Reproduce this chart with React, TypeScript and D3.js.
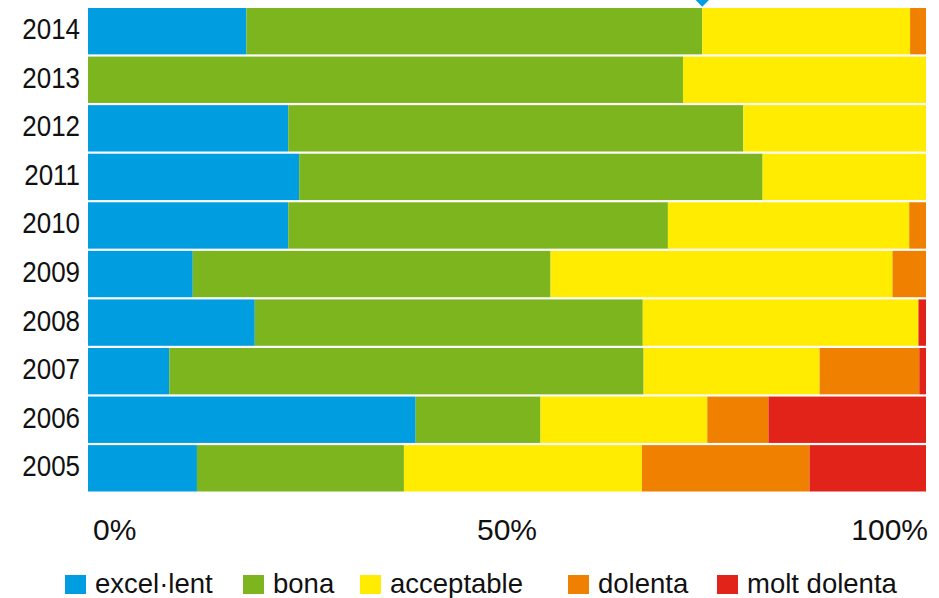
import React from "react";
import * as d3 from "d3";

const years = ["2014", "2013", "2012", "2011", "2010", "2009", "2008", "2007", "2006", "2005"];
const seriesNames = ["excel·lent", "bona", "acceptable", "dolenta", "molt dolenta"];
const seriesColors = ["#009EE0", "#7DB51F", "#FFEC00", "#F08000", "#E2231A"];
const excellent = [18.9, 0, 23.9, 25.2, 23.9, 12.5, 19.9, 9.7, 39.1, 13.0];
const bona = [54.4, 71.0, 54.3, 55.3, 45.3, 42.7, 46.3, 56.6, 14.9, 24.7];
const acceptable = [24.8, 29.0, 21.8, 19.5, 28.8, 40.8, 32.9, 21.0, 19.9, 28.4];
const dolenta = [1.9, 0, 0, 0, 2.0, 4.0, 0, 11.9, 7.3, 20.0];
const moltDolenta = [0, 0, 0, 0, 0, 0, 0.9, 0.8, 18.8, 13.9];
const tickValues = [0, 50, 100];
const tickLabels = ["0%", "50%", "100%"];
const markerValue = 73.3; // diamond marker above 2014 bar

const W = 939;
const H = 598;
const FONT = "'Liberation Sans', 'DejaVu Sans', sans-serif";

export default function App() {
  const x = d3.scaleLinear().domain([0, 100]).range([88, 926]);
  const y = d3.scaleBand().domain(years).range([8, 491.5]).paddingInner(0.045).paddingOuter(0);

  const table = years.map((yr, i) => ({
    year: yr,
    "excel·lent": excellent[i],
    bona: bona[i],
    acceptable: acceptable[i],
    dolenta: dolenta[i],
    "molt dolenta": moltDolenta[i],
  }));
  const stack = d3.stack<any>().keys(seriesNames);
  const layers = stack(table);

  const legendX = [65, 243, 360, 568, 717];

  return (
    <svg width={W} height={H} style={{ position: "absolute", left: 0, top: 0, background: "#fff" }}>
      {layers.map((layer, li) =>
        layer.map((d, i) => {
          const x0 = x(d[0]);
          const x1 = x(d[1]);
          if (x1 - x0 <= 0) return null;
          return (
            <rect
              key={`${li}-${i}`}
              x={x0}
              y={y(years[i])!}
              width={x1 - x0}
              height={y.bandwidth()}
              fill={seriesColors[li]}
            />
          );
        })
      )}
      <path
        d={d3.symbol().type(d3.symbolSquare).size(392)()!}
        transform={`translate(${x(markerValue)},-7.3) rotate(45)`}
        fill="#009EE0"
      />
      {years.map((yr) => (
        <text
          key={yr}
          transform={`translate(80,${y(yr)! + y.bandwidth() / 2 + 8}) scale(0.88,1)`}
          textAnchor="end"
          fontFamily={FONT}
          fontSize={29.5}
          fill="#111"
        >
          {yr}
        </text>
      ))}
      {tickValues.map((t, i) => (
        <text
          key={t}
          x={i === 0 ? x(t) + 5 : i === tickValues.length - 1 ? x(t) + 2 : x(t)}
          y={539.5}
          textAnchor={i === 0 ? "start" : i === tickValues.length - 1 ? "end" : "middle"}
          fontFamily={FONT}
          fontSize={30}
          fill="#111"
        >
          {tickLabels[i]}
        </text>
      ))}
      {seriesNames.map((s, i) => (
        <g key={s} transform={`translate(${legendX[i]},0)`}>
          <rect x={0} y={575} width={21} height={19} fill={seriesColors[i]} />
          <text x={30} y={593} fontFamily={FONT} fontSize={27.5} fill="#111">
            {s}
          </text>
        </g>
      ))}
    </svg>
  );
}
